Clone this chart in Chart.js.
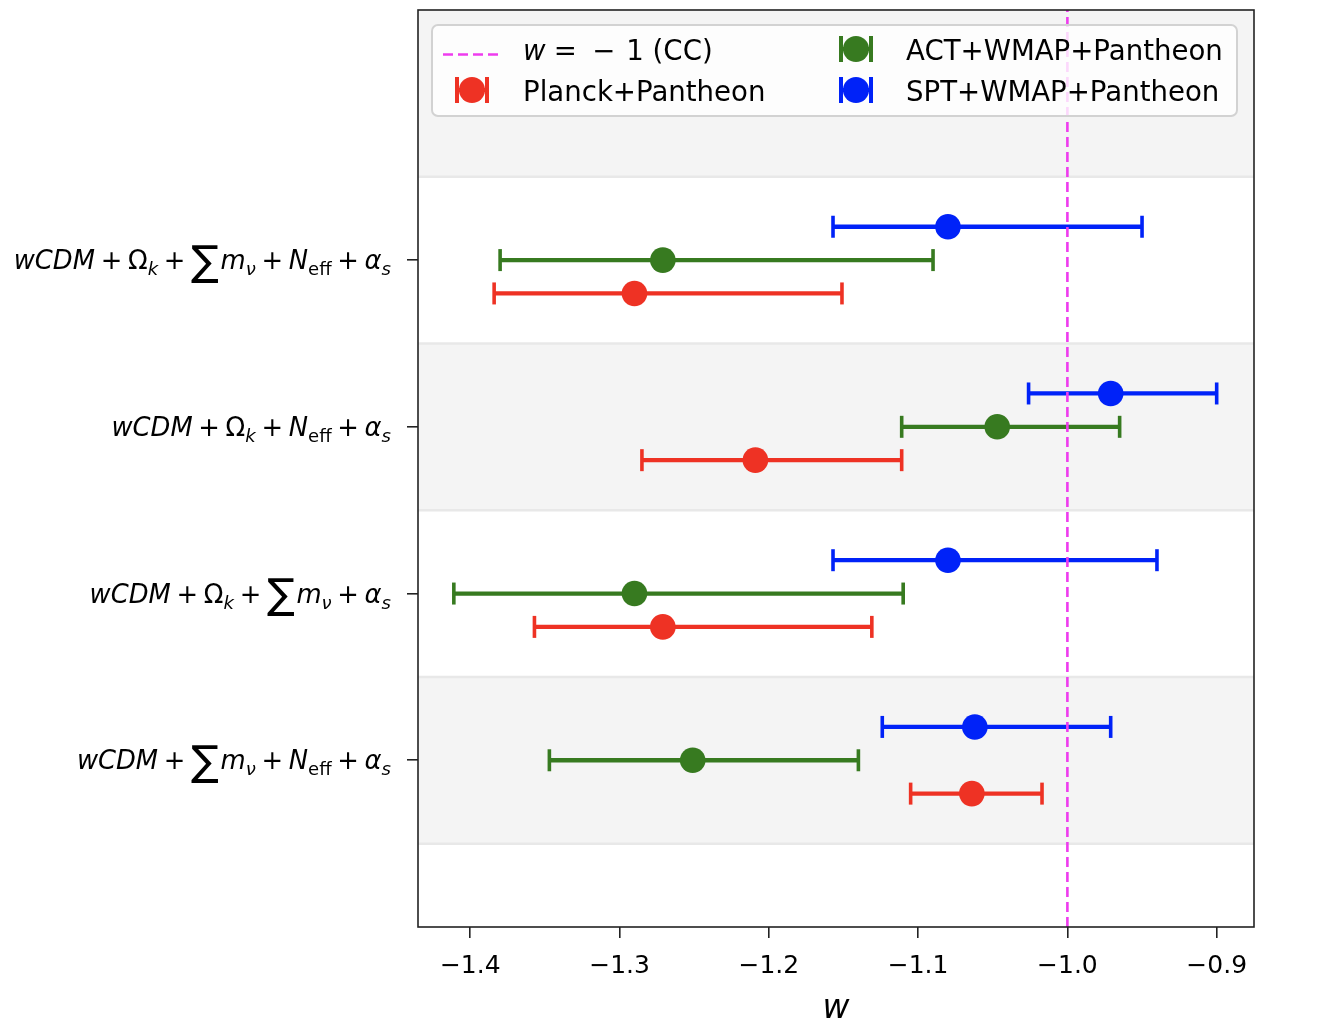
<!DOCTYPE html>
<html>
<head>
<meta charset="utf-8">
<script src="https://cdn.jsdelivr.net/npm/chart.js@4.4.1/dist/chart.umd.min.js"></script>
<style>
  html, body { margin: 0; padding: 0; background: #fff; }
  #wrap { position: relative; width: 1324px; height: 1034px; font-family: "DejaVu Sans", sans-serif; color: #000; }
  #wrap canvas { position: absolute; left: 0; top: 0; }
  .ylab { position: absolute; right: 933px; white-space: nowrap; font-size: 25.8px; line-height: 1; transform: translateY(-50%); }
  .ylab sub { font-size: 0.7em; vertical-align: -0.3em; line-height: 0; }
  .ylab .op { margin: 0 0.22em; }
  .ylab .sum { font-size: 1.6em; vertical-align: -0.14em; line-height: 0; margin-right: 0.04em; }
  #legend { position: absolute; left: 431px; top: 24px; width: 807px; height: 93px; box-sizing: border-box;
            border: 2px solid #d2d2d2; border-radius: 7px; background: rgba(255,255,255,0.8); }
  .lt { position: absolute; font-size: 27.6px; line-height: 1; white-space: nowrap; transform: translateY(-50%); }
  .lh { position: absolute; transform: translate(-50%, -50%); }
</style>
</head>
<body>
<div id="wrap">
  <canvas id="forest" width="1324" height="1034"></canvas>
  <div id="legend"></div>
</div>
<script>
// categories, bottom (y = 0) to top (y = 3)
const categories = [
    'wCDM + Σmν + Neff + αs',
    'wCDM + Ωk + Σmν + αs',
    'wCDM + Ωk + Neff + αs',
    'wCDM + Ωk + Σmν + Neff + αs'
];

// w constraints: central value, lower and upper ends of the error bar
const planckMid = [-1.064, -1.271, -1.209, -1.290];
const planckLo  = [-1.105, -1.357, -1.285, -1.384];
const planckHi  = [-1.017, -1.131, -1.111, -1.151];

const actMid = [-1.251, -1.290, -1.047, -1.271];
const actLo  = [-1.347, -1.411, -1.111, -1.380];
const actHi  = [-1.140, -1.110, -0.965, -1.090];

const sptMid = [-1.062, -1.080, -0.971, -1.080];
const sptLo  = [-1.124, -1.157, -1.026, -1.157];
const sptHi  = [-0.971, -0.940, -0.900, -0.950];

const ccValue = -1.0;

const xTicks = [-1.4, -1.3, -1.2, -1.1, -1.0, -0.9];
const xTickLabels = ['−1.4', '−1.3', '−1.2', '−1.1', '−1.0', '−0.9'];

const series = [
    { label: 'Planck+Pantheon',    color: '#ee3224', shift: -0.2, mid: planckMid, lo: planckLo, hi: planckHi },
    { label: 'ACT+WMAP+Pantheon',  color: '#377a20', shift: 0,    mid: actMid,    lo: actLo,    hi: actHi },
    { label: 'SPT+WMAP+Pantheon',  color: '#0022f8', shift: 0.2,  mid: sptMid,    lo: sptLo,    hi: sptHi }
];
const ccColor = '#ee3cee';

// build datasets
const datasets = [{
    type: 'line',
    data: [{ x: ccValue, y: -1 }, { x: ccValue, y: 4.5 }],
    borderColor: ccColor,
    borderWidth: 2.6,
    borderDash: [10, 5],
    pointRadius: 0,
    order: 0
}];
series.forEach(s => {
    datasets.push({
        type: 'scatter',
        data: s.mid.map((v, i) => ({ x: v, y: i + s.shift })),
        backgroundColor: s.color,
        borderWidth: 0,
        pointRadius: 12.8,
        pointHoverRadius: 12.8,
        order: 1
    });
});
series.forEach(s => {
    const pts = [];
    s.mid.forEach((v, i) => {
        pts.push({ x: s.lo[i], y: i + s.shift });
        pts.push({ x: s.hi[i], y: i + s.shift });
        pts.push({ x: null, y: null });
    });
    datasets.push({
        type: 'line',
        data: pts,
        borderColor: s.color,
        borderWidth: 4.3,
        spanGaps: false,
        pointStyle: 'line',
        rotation: 90,
        pointRadius: 11,
        pointBorderWidth: 3.6,
        pointBorderColor: s.color,
        order: 2
    });
});

const bandRows = [0, 2, 4];
const bands = {
    id: 'bands',
    beforeDatasetsDraw(chart) {
        const { ctx, chartArea: a, scales: { y } } = chart;
        ctx.save();
        ctx.fillStyle = '#f4f4f4';
        bandRows.forEach(r => {
            const top = Math.max(y.getPixelForValue(r + 0.5), a.top);
            const bot = y.getPixelForValue(r - 0.5);
            ctx.fillRect(a.left, top, a.right - a.left, bot - top);
        });
        ctx.strokeStyle = '#e8e8e8';
        ctx.lineWidth = 2.5;
        [-0.5, 0.5, 1.5, 2.5, 3.5].forEach(v => {
            const py = y.getPixelForValue(v);
            ctx.beginPath();
            ctx.moveTo(a.left, py);
            ctx.lineTo(a.right, py);
            ctx.stroke();
        });
        ctx.restore();
    },
    afterDraw(chart) {
        const { ctx, chartArea: a } = chart;
        ctx.save();
        ctx.strokeStyle = '#222';
        ctx.lineWidth = 1.6;
        ctx.strokeRect(a.left, a.top, a.right - a.left, a.bottom - a.top);
        ctx.restore();
    }
};

const chart = new Chart(document.getElementById('forest'), {
    type: 'scatter',
    data: { datasets },
    options: {
        responsive: false,
        animation: false,
        devicePixelRatio: 1,
        layout: { autoPadding: false, padding: { top: 10, right: 70, left: 0, bottom: 0 } },
        plugins: { legend: { display: false }, tooltip: { enabled: false } },
        scales: {
            x: {
                type: 'linear',
                min: -1.435,
                max: -0.875,
                afterBuildTicks: scale => { scale.ticks = xTicks.map(v => ({ value: v })); },
                afterFit: scale => { scale.height = 107; },
                border: { display: false },
                grid: { drawOnChartArea: false, drawTicks: true, tickLength: 11, color: '#222', lineWidth: 1.6 },
                ticks: {
                    autoSkip: false,
                    maxRotation: 0,
                    padding: 13,
                    color: '#000',
                    font: { family: 'DejaVu Sans', size: 25 },
                    callback: (v, i) => xTickLabels[i]
                },
                title: {
                    display: true,
                    text: 'w',
                    color: '#000',
                    padding: { top: 0, bottom: 5 },
                    font: { family: 'DejaVu Sans', size: 33, style: 'italic' }
                }
            },
            y: {
                type: 'linear',
                min: -1,
                max: 4.5,
                afterBuildTicks: scale => { scale.ticks = categories.map((c, i) => ({ value: i })); },
                afterFit: scale => { scale.width = 418; },
                border: { display: false },
                grid: { drawOnChartArea: false, drawTicks: true, tickLength: 11, color: '#222', lineWidth: 1.6 },
                ticks: { display: false }
            }
        }
    },
    plugins: [bands]
});

// y tick labels as html math
const termHtml = {
    'wCDM': '<i>wCDM</i>',
    'Ωk': 'Ω<sub><i>k</i></sub>',
    'Σmν': '<span class="sum">∑</span><i>m</i><sub><i>ν</i></sub>',
    'Neff': '<i>N</i><sub>eff</sub>',
    'αs': '<i>α</i><sub><i>s</i></sub>'
};
const wrap = document.getElementById('wrap');
const yScale = chart.scales.y;
categories.forEach((c, i) => {
    const d = document.createElement('div');
    d.className = 'ylab';
    d.innerHTML = c.split(' + ').map(t => termHtml[t]).join('<span class="op">+</span>');
    d.style.top = (yScale.getPixelForValue(i) + 1) + 'px';
    wrap.appendChild(d);
});

// legend
function errHandle(color) {
    return '<svg width="34" height="28" viewBox="0 0 34 28">' +
        '<line x1="2" y1="14" x2="32" y2="14" stroke="' + color + '" stroke-width="4"/>' +
        '<rect x="0" y="1" width="4" height="26" fill="' + color + '"/>' +
        '<rect x="30" y="1" width="4" height="26" fill="' + color + '"/>' +
        '<circle cx="17" cy="14" r="13" fill="' + color + '"/></svg>';
}
const legend = document.getElementById('legend');
const legendItems = [
    { col: 0, row: 0, handle: '<svg width="58" height="4"><line x1="0" y1="2" x2="58" y2="2" stroke="' + ccColor + '" stroke-width="2.6" stroke-dasharray="10 5"/></svg>',
      text: '<i>w</i><span style="margin:0 0.3em">=</span><span style="margin:0 0.4em 0 0.25em">−</span>1 (CC)' },
    { col: 0, row: 1, handle: errHandle(series[0].color), text: series[0].label },
    { col: 1, row: 0, handle: errHandle(series[1].color), text: series[1].label },
    { col: 1, row: 1, handle: errHandle(series[2].color), text: series[2].label }
];
const colHandleX = [39, 423], colTextX = [90, 473], rowY = [25, 66];
legendItems.forEach(it => {
    const h = document.createElement('div');
    h.className = 'lh';
    h.style.left = colHandleX[it.col] + 'px';
    h.style.top = rowY[it.row] + 'px';
    h.innerHTML = it.handle;
    legend.appendChild(h);
    const t = document.createElement('div');
    t.className = 'lt';
    t.style.left = colTextX[it.col] + 'px';
    t.style.top = rowY[it.row] + 'px';
    t.innerHTML = it.text;
    legend.appendChild(t);
});
</script>
</body>
</html>
